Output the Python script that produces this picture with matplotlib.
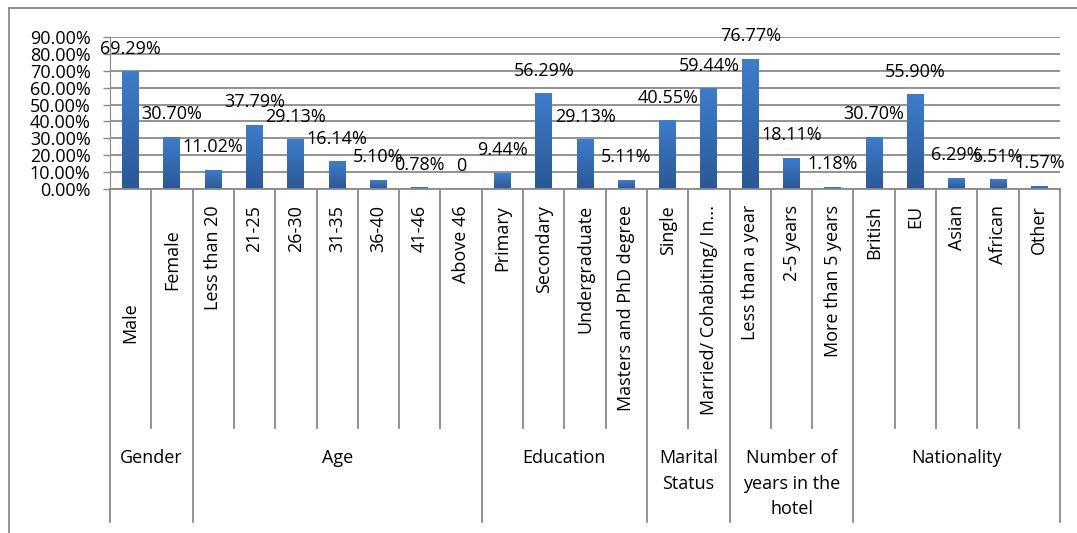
import matplotlib.pyplot as plt
import numpy as np
from matplotlib.colors import LinearSegmentedColormap
from matplotlib.lines import Line2D
from matplotlib.ticker import FuncFormatter

plt.rcParams["font.family"] = ["Open Sans", "DejaVu Sans"]

categories = [
    "Male", "Female",
    "Less than 20", "21-25", "26-30", "31-35", "36-40", "41-46", "Above 46",
    "Primary", "Secondary", "Undergraduate", "Masters and PhD degree",
    "Single", "Married/ Cohabiting/ In...",
    "Less than a year", "2-5 years", "More than 5 years",
    "British", "EU", "Asian", "African", "Other",
]
values = [
    69.29, 30.70,
    11.02, 37.79, 29.13, 16.14, 5.10, 0.78, 0.0,
    9.44, 56.29, 29.13, 5.11,
    40.55, 59.44,
    76.77, 18.11, 1.18,
    30.70, 55.90, 6.29, 5.51, 1.57,
]
value_labels = [
    "69.29%", "30.70%",
    "11.02%", "37.79%", "29.13%", "16.14%", "5.10%", "0.78%", "0",
    "9.44%", "56.29%", "29.13%", "5.11%",
    "40.55%", "59.44%",
    "76.77%", "18.11%", "1.18%",
    "30.70%", "55.90%", "6.29%", "5.51%", "1.57%",
]
groups = ["Gender", "Age", "Education", "Marital\nStatus",
          "Number of\nyears in the\nhotel", "Nationality"]
group_sizes = [2, 7, 4, 2, 3, 5]

GRAY = "#8a8a8a"
TXT = "#000000"
FS = 13
# pixel geometry of the reference (1077 x 533)
W, H = 1077, 533
AX_L, AX_R, AX_TOP, AX_BOT = 110, 1060, 37, 189
AX_H = AX_BOT - AX_TOP


def ya(ypix):
    """Pixel row below/above the axis -> axes fraction."""
    return (AX_BOT - ypix) / AX_H


fig = plt.figure(figsize=(W / 100, H / 100), dpi=100)
ax = fig.add_axes([AX_L / W, 1 - AX_BOT / H, (AX_R - AX_L) / W, AX_H / H])

n = len(categories)
x = np.arange(n)
vals = np.array(values) / 100.0
bw = 0.41

cmap = LinearSegmentedColormap.from_list("bar", ["#2b5896", "#3d7dcc"])
grad = np.linspace(0, 1, 64).reshape(-1, 1)
for xi, v in zip(x, vals):
    if v <= 0:
        continue
    ax.imshow(grad, extent=[xi - bw / 2, xi + bw / 2, 0, v], origin="lower",
              aspect="auto", cmap=cmap, zorder=2, interpolation="bicubic")

ax.set_xlim(-0.5, n - 0.5)
ax.set_ylim(0, 0.9)
ax.set_aspect("auto")

for xi, v, lab in zip(x, vals, value_labels):
    ax.annotate(lab, (xi, v), xytext=(0, 16.5), textcoords="offset points",
                ha="center", va="center", fontsize=FS, color=TXT, zorder=4)

ax.set_yticks(np.arange(0, 0.91, 0.1))
ax.yaxis.set_major_formatter(FuncFormatter(lambda v, _: f"{v * 100:.2f}%"))
ax.tick_params(axis="y", length=5, width=1, color=GRAY, pad=9,
               labelsize=FS, labelcolor=TXT)
ax.set_xticks([])
ax.grid(axis="y", color=GRAY, linewidth=1.3, zorder=0)
ax.set_axisbelow(True)
for side in ["top", "right"]:
    ax.spines[side].set_visible(False)
ax.spines["left"].set_color(GRAY)
ax.spines["bottom"].set_color(GRAY)
ax.spines["bottom"].set_linewidth(1.3)

tr = ax.get_xaxis_transform()
label_top = {"Male": 302, "Female": 229}
for xi, cat in zip(x, categories):
    ax.text(xi, ya(label_top.get(cat, 205)), cat, rotation=90, ha="center",
            va="top", fontsize=FS, color=TXT, transform=tr)

# separators: short ones between categories, long ones between groups
bounds = np.cumsum([0] + group_sizes)
for k in range(n + 1):
    bottom = ya(522) if k in bounds else ya(428)
    ax.plot([k - 0.5, k - 0.5], [0, bottom], color=GRAY, lw=1.3,
            transform=tr, clip_on=False)

for g, start, size in zip(groups, bounds[:-1], group_sizes):
    ax.text(start - 0.5 + size / 2, ya(449), g, ha="center", va="top",
            fontsize=FS, color=TXT, transform=tr, linespacing=1.55)

# outer chart frame (runs off the right and bottom edges)
fig.add_artist(Line2D([9 / W, 9 / W], [0, 1 - 8 / H], color=GRAY, lw=1.3))
fig.add_artist(Line2D([9 / W, 1], [1 - 8 / H, 1 - 8 / H], color=GRAY, lw=1.3))

fig.savefig("out.png", dpi=100)
